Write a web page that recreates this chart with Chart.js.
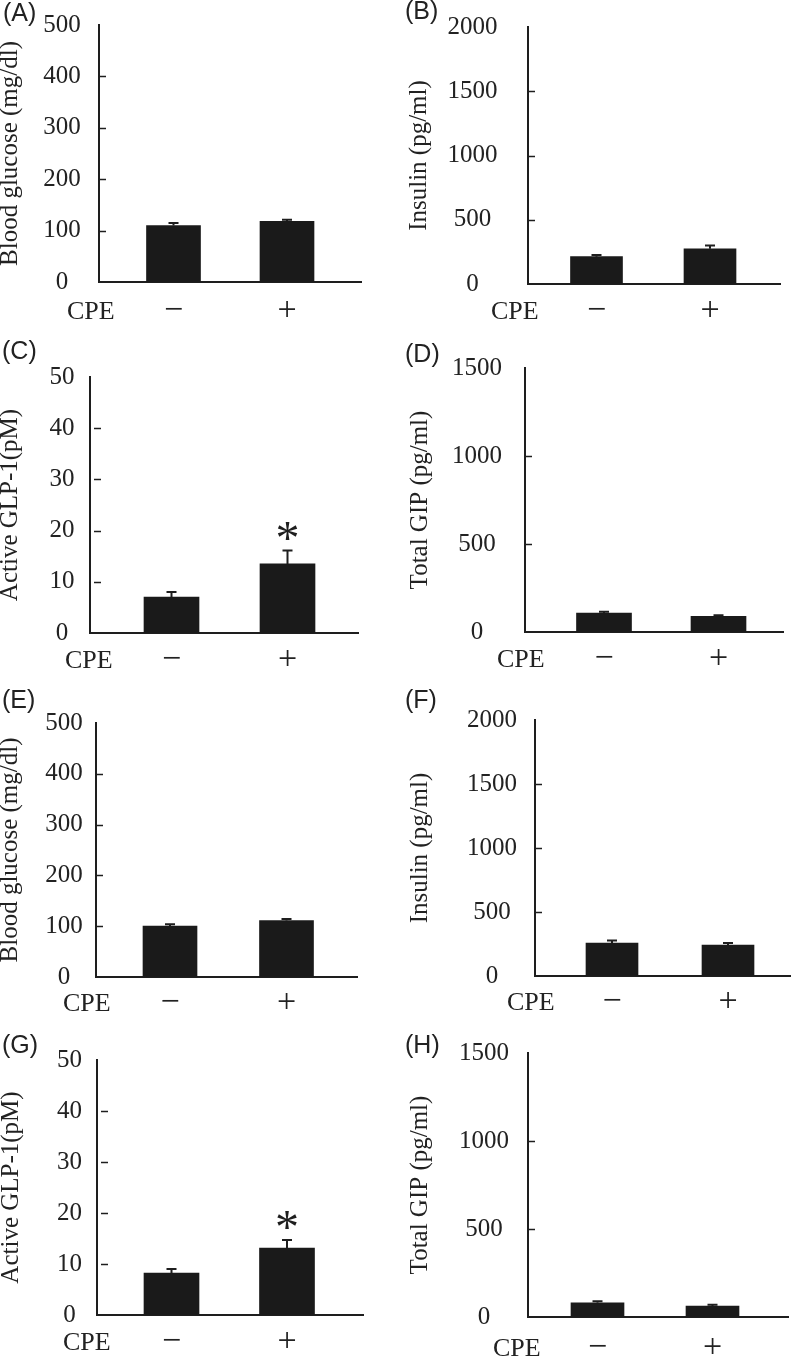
<!DOCTYPE html>
<html><head><meta charset="utf-8">
<script src="https://cdn.jsdelivr.net/npm/chart.js@4/dist/chart.umd.min.js"></script>
<style>
html,body{margin:0;padding:0;background:#fff;width:792px;height:1359px;overflow:hidden;position:relative}
canvas{position:absolute}
</style></head><body>
<script>
// ---- data ----
const groups = ['\u2212', '+'];
const groupTitle = 'CPE';
const panelLetters = ['(A)','(B)','(C)','(D)','(E)','(F)','(G)','(H)'];
const yTitles = ['Blood glucose (mg/dl)','Insulin (pg/ml)','Active GLP-1(pM)','Total GIP (pg/ml)',
                 'Blood glucose (mg/dl)','Insulin (pg/ml)','Active GLP-1(pM)','Total GIP (pg/ml)'];
const yMax  = [500, 2000, 50, 1500, 500, 2000, 50, 1500];
const yStep = [100, 500, 10, 500, 100, 500, 10, 500];

const glucoseA = [110, 118];  const glucoseAErr = [5, 3];
const insulinB = [213, 274];  const insulinBErr = [13, 26];
const glp1C    = [7.0, 13.5]; const glp1CErr    = [1.0, 2.6];
const gipD     = [108, 89];   const gipDErr     = [7, 6];
const glucoseE = [100, 111];  const glucoseEErr = [4, 3];
const insulinF = [257, 241];  const insulinFErr = [21, 16];
const glp1G    = [8.2, 13.1]; const glp1GErr    = [0.8, 1.6];
const gipH     = [81, 62];    const gipHErr     = [8, 8];
const sigC = [false, true];
const sigG = [false, true];
const noSig = [false, false];

const means = [glucoseA, insulinB, glp1C, gipD, glucoseE, insulinF, glp1G, gipH];
const errs  = [glucoseAErr, insulinBErr, glp1CErr, gipDErr, glucoseEErr, insulinFErr, glp1GErr, gipHErr];
const sigs  = [noSig, noSig, sigC, noSig, noSig, noSig, sigG, noSig];

// ---- layout (page pixels) ----
const L = [
 {cx:0,   l:99,  r:361, t:25,  b:282,  c1:173.5, c2:287,   bw:54, lc:62,   tc:12.5, cpe:67,  off:30, gap:0, lx:3,   ly:21},
 {cx:396, l:528, r:780, t:27,  b:284,  c1:596.5, c2:710,   bw:52, lc:472.5,tc:422,  cpe:491, off:28, gap:0, lx:405, ly:19},
 {cx:0,   l:90,  r:358, t:377, b:633,  c1:171.5, c2:287.5, bw:55, lc:62,   tc:13,   cpe:65,  off:28, gap:4, lx:2,   ly:359},
 {cx:396, l:525, r:783, t:368, b:632,  c1:604,   c2:718.5, bw:55, lc:477,  tc:423,  cpe:497, off:28, gap:0, lx:405, ly:362},
 {cx:0,   l:96,  r:357, t:723, b:977,  c1:170,   c2:286.5, bw:54, lc:64,   tc:13,   cpe:63,  off:27, gap:0, lx:2,   ly:708},
 {cx:396, l:535, r:790, t:720, b:976,  c1:612,   c2:728,   bw:52, lc:492,  tc:423,  cpe:507, off:27, gap:0, lx:405, ly:708},
 {cx:0,   l:97,  r:363, t:1060,b:1315, c1:171.5, c2:287,   bw:55, lc:69.5, tc:14,   cpe:63,  off:28, gap:4, lx:2,   ly:1053},
 {cx:396, l:528, r:788, t:1053,b:1317, c1:597.5, c2:712.5, bw:53, lc:484,  tc:423,  cpe:493, off:32, gap:0, lx:405, ly:1053},
];

const INK = '#1e1e1e';
const SERIF = '"Liberation Serif", "Times New Roman", serif';
const SANS = '"Liberation Sans", Arial, sans-serif';

L.forEach((g, p) => {
  const cv = document.createElement('canvas');
  const top = g.t - 60;
  const W = 396, H = g.b - top + 48;
  cv.width = W; cv.height = H;
  cv.style.left = g.cx + 'px'; cv.style.top = top + 'px';
  cv.style.width = W + 'px'; cv.style.height = H + 'px';
  document.body.appendChild(cv);

  const unit = g.c2 - g.c1;
  const xmin = 1 - (g.c1 - g.l) / unit;
  const xmax = 2 + (g.r - g.c2) / unit;
  const widest = String(yMax[p]).length * 12.5;

  const extras = {
    id: 'extras' + p,
    afterDatasetsDraw(chart) {
      const ctx = chart.ctx, ys = chart.scales.y;
      const meta = chart.getDatasetMeta(0);
      ctx.save();
      ctx.strokeStyle = INK; ctx.fillStyle = INK; ctx.lineWidth = 2;
      meta.data.forEach((bar, i) => {
        const yTop = ys.getPixelForValue(means[p][i] + errs[p][i]);
        ctx.beginPath();
        ctx.moveTo(bar.x, bar.y); ctx.lineTo(bar.x, yTop);
        ctx.moveTo(bar.x - 5, yTop); ctx.lineTo(bar.x + 5, yTop);
        ctx.stroke();
        if (sigs[p][i]) {
          ctx.font = '48px ' + SERIF;
          ctx.textAlign = 'center'; ctx.textBaseline = 'alphabetic';
          ctx.fillText('*', bar.x, yTop - 18 + 21);
        }
      });
      ctx.restore();
    },
    afterDraw(chart) {
      const ctx = chart.ctx, ys = chart.scales.y, ca = chart.chartArea;
      ctx.save();
      ctx.strokeStyle = INK; ctx.lineWidth = 1.5;
      ys.ticks.forEach(tk => {
        if (tk.value === 0 || tk.value === yMax[p]) return;
        const y = Math.round(ys.getPixelForValue(tk.value)) + 0.5;
        ctx.beginPath();
        ctx.moveTo(ca.left + g.gap, y); ctx.lineTo(ca.left + g.gap + 7, y);
        ctx.stroke();
      });
      ctx.fillStyle = '#222';
      ctx.font = '26px ' + SERIF;
      ctx.textAlign = 'left'; ctx.textBaseline = 'middle';
      ctx.fillText(groupTitle, g.cpe - g.cx, ca.bottom + g.off);
      ctx.font = '25px ' + SANS;
      ctx.textBaseline = 'alphabetic';
      ctx.fillText(panelLetters[p], g.lx - g.cx, g.ly - top);
      ctx.restore();
    }
  };

  new Chart(cv, {
    type: 'bar',
    data: {
      datasets: [{
        data: means[p].map((v, i) => ({x: i + 1, y: v})),
        backgroundColor: '#1a1a1a',
        borderWidth: 0,
        barThickness: g.bw
      }]
    },
    options: {
      responsive: false,
      animation: false,
      devicePixelRatio: 1,
      layout: { padding: { left: 0, right: g.cx + 396 - g.r, top: g.t - top, bottom: 0 } },
      plugins: { legend: { display: false }, tooltip: { enabled: false }, title: { display: false } },
      scales: {
        x: {
          type: 'linear', min: xmin, max: xmax, offset: false,
          afterBuildTicks: s => { s.ticks = [{value: 1}, {value: 2}]; },
          afterFit: s => { s.height = 48; },
          grid: { display: false, drawTicks: false },
          border: { display: true, color: INK, width: 2 },
          ticks: {
            callback: (v, i) => groups[i],
            font: { family: SERIF, size: 34 },
            color: '#222', padding: g.off - 21,
            autoSkip: false, maxRotation: 0
          }
        },
        y: {
          min: 0, max: yMax[p],
          afterFit: s => { s.width = g.l - g.cx; },
          grid: { display: false, drawTicks: false },
          border: { display: true, color: INK, width: 2 },
          ticks: {
            stepSize: yStep[p],
            callback: v => String(v),
            font: { family: SERIF, size: 25 },
            color: '#222', crossAlign: 'center',
            padding: g.l - g.lc - widest / 2
          },
          title: {
            display: true, text: yTitles[p], color: '#222',
            font: { family: SERIF, size: 25, lineHeight: 1 },
            padding: { top: g.tc - 2.5 - g.cx - 12.5, bottom: 0 }
          }
        }
      }
    },
    plugins: [extras]
  });
});
</script>
</body></html>
